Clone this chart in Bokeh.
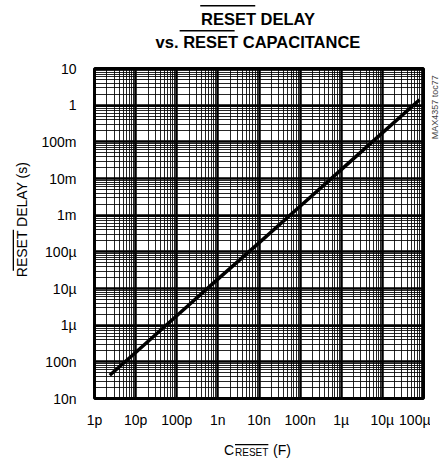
import math
from bokeh.plotting import figure
from bokeh.models import FixedTicker, Range1d
from bokeh.layouts import column, row
from bokeh.core.properties import value
from bokeh.embed import file_html
from bokeh.resources import INLINE

# ---- data ----
cap_f = [2.35e-12, 1e-11, 1e-10, 1e-9, 1e-8, 1e-7, 1e-6, 1e-5, 8e-5]
delay_s = [4.3e-8, 1.8e-7, 1.8e-6, 1.8e-5, 1.75e-4, 1.75e-3, 1.75e-2, 0.175, 1.4]

x_ticks = [1e-12, 1e-11, 1e-10, 1e-9, 1e-8, 1e-7, 1e-6, 1e-5, 1e-4]
x_labels = ["1p", "10p", "100p", "1n", "10n", "100n", "1µ", "10µ", "100µ"]
y_ticks = [1e-8, 1e-7, 1e-6, 1e-5, 1e-4, 1e-3, 1e-2, 1e-1, 1e0, 1e1]
y_labels = ["10n", "100n", "1µ", "10µ", "100µ", "1m", "10m", "100m", "1", "10"]

title_1 = "RESET DELAY"
title_2 = "vs. RESET CAPACITANCE"
y_title = "RESET DELAY (s)"
x_title_c, x_title_sub, x_title_unit = "C", "RESET", "(F)"
fig_id = "MAX4357 toc77"

FONT = "Liberation Sans"

# page layout (pixels)
PW, PH = 440, 462
TOP_H = 58          # title strip
BOT_H = 30          # x-title strip
LEFT_W = 38         # y-title strip
RIGHT_W = 10        # figure-id strip
MID_H = PH - TOP_H - BOT_H
MAIN_W = PW - LEFT_W - RIGHT_W


def strip(w, h, x0, y0):
    """A plain drawing strip whose data units equal page pixels (y down)."""
    f = figure(width=w, height=h, x_range=Range1d(x0, x0 + w),
               y_range=Range1d(y0 + h, y0), min_border=0,
               x_axis_location=None, y_axis_location=None,
               toolbar_location=None, output_backend="svg")
    f.outline_line_color = None
    f.background_fill_color = "white"
    f.border_fill_color = "white"
    f.grid.visible = False
    return f


def txt(f, s, x, y, size, bold=False, align="center", angle=0.0, color="black"):
    f.text(x=[x], y=[y], text=[s], text_font=value(FONT),
           text_font_size=value(size),
           text_font_style="bold" if bold else "normal",
           text_align=align, text_baseline="middle",
           angle=angle, text_color=color)


def bar(f, x0, x1, y0, y1):
    f.quad(left=[x0], right=[x1], top=[y0], bottom=[y1],
           fill_color="black", line_color=None)


# ---------- title strip ----------
top = strip(PW, TOP_H, 0, 0)
TS = 16.5
txt(top, title_1, 257.5, 18.5, f"{TS}px", bold=True)
w1 = (0.722 + 0.667 + 0.667 + 0.667 + 0.611 + 0.278 + 0.722 + 0.667 + 0.611 + 0.722 + 0.667) * TS
x1 = 257.5 - w1 / 2
bar(top, x1, x1 + 3.334 * TS, 4.6, 6.1)
txt(top, title_2, 257.5, 41, f"{TS}px", bold=True)
w2 = 12.837 * TS
x2 = 257.5 - w2 / 2 + 1.668 * TS
bar(top, x2, x2 + 3.334 * TS, 29.4, 30.9)

# ---------- y-title strip ----------
left = strip(LEFT_W, MID_H, 0, TOP_H)
YS = 14
ylen = 8.335 * YS
yc = 229
txt(left, y_title, 21.5, yc, f"{YS}px", angle=math.pi / 2)
ybot = yc + ylen / 2
bar(left, 12.2, 13.5, ybot - 3.334 * YS, ybot)

# ---------- figure-id strip ----------
right = strip(RIGHT_W, MID_H, PW - RIGHT_W, TOP_H)
txt(right, fig_id, 434.5, 102, "9px", angle=math.pi / 2, color="#444444")

# ---------- main chart ----------
p = figure(width=MAIN_W, height=MID_H, x_axis_type="log", y_axis_type="log",
           x_range=Range1d(x_ticks[0], x_ticks[-1]),
           y_range=Range1d(y_ticks[0], y_ticks[-1]),
           output_backend="svg", toolbar_location=None,
           min_border_left=55, min_border_right=MAIN_W - 55 - 330,
           min_border_top=10, min_border_bottom=MID_H - 10 - 330)
p.background_fill_color = "white"
p.border_fill_color = "white"
p.outline_line_color = "black"
p.outline_line_width = 3


def minors(ticks):
    return [m * t for t in ticks[:-1] for m in range(2, 10)]


xt = FixedTicker(ticks=x_ticks, minor_ticks=minors(x_ticks))
yt = FixedTicker(ticks=y_ticks, minor_ticks=minors(y_ticks))
p.xaxis.ticker = xt
p.yaxis.ticker = yt
p.xgrid.ticker = xt
p.ygrid.ticker = yt
p.xaxis.major_label_overrides = {t: l for t, l in zip(x_ticks, x_labels)}
p.yaxis.major_label_overrides = {t: l for t, l in zip(y_ticks, y_labels)}

for ax in (p.xaxis, p.yaxis):
    ax.axis_line_color = None
    ax.major_tick_line_color = None
    ax.minor_tick_line_color = None
    ax.major_tick_out = 0
    ax.major_tick_in = 0
    ax.minor_tick_out = 0
    ax.minor_tick_in = 0
    ax.major_label_text_font = FONT
    ax.major_label_text_font_size = "14px"
    ax.major_label_text_color = "black"
p.xaxis.major_label_standoff = 13
p.yaxis.major_label_standoff = 18

for g in (p.xgrid, p.ygrid):
    g.grid_line_color = "black"
    g.grid_line_width = 2.5
    g.grid_line_alpha = 1
    g.minor_grid_line_color = "black"
    g.minor_grid_line_width = 1
    g.minor_grid_line_alpha = 0.85

p.line(cap_f, delay_s, line_color="black", line_width=3.5)

# ---------- x-title strip ----------
bot = strip(PW, BOT_H, 0, PH - BOT_H)
txt(bot, x_title_c, 228.5, 449, "14px")
txt(bot, x_title_sub, 234.5, 451.5, "10px", align="left")
bar(bot, 234.5, 234.5 + 3.334 * 10, 443.6, 444.7)
txt(bot, x_title_unit, 272.5, 449, "14px", align="left")

layout = column(top, row(left, p, right), bot)
open("out.html", "w").write(file_html(layout, INLINE))
